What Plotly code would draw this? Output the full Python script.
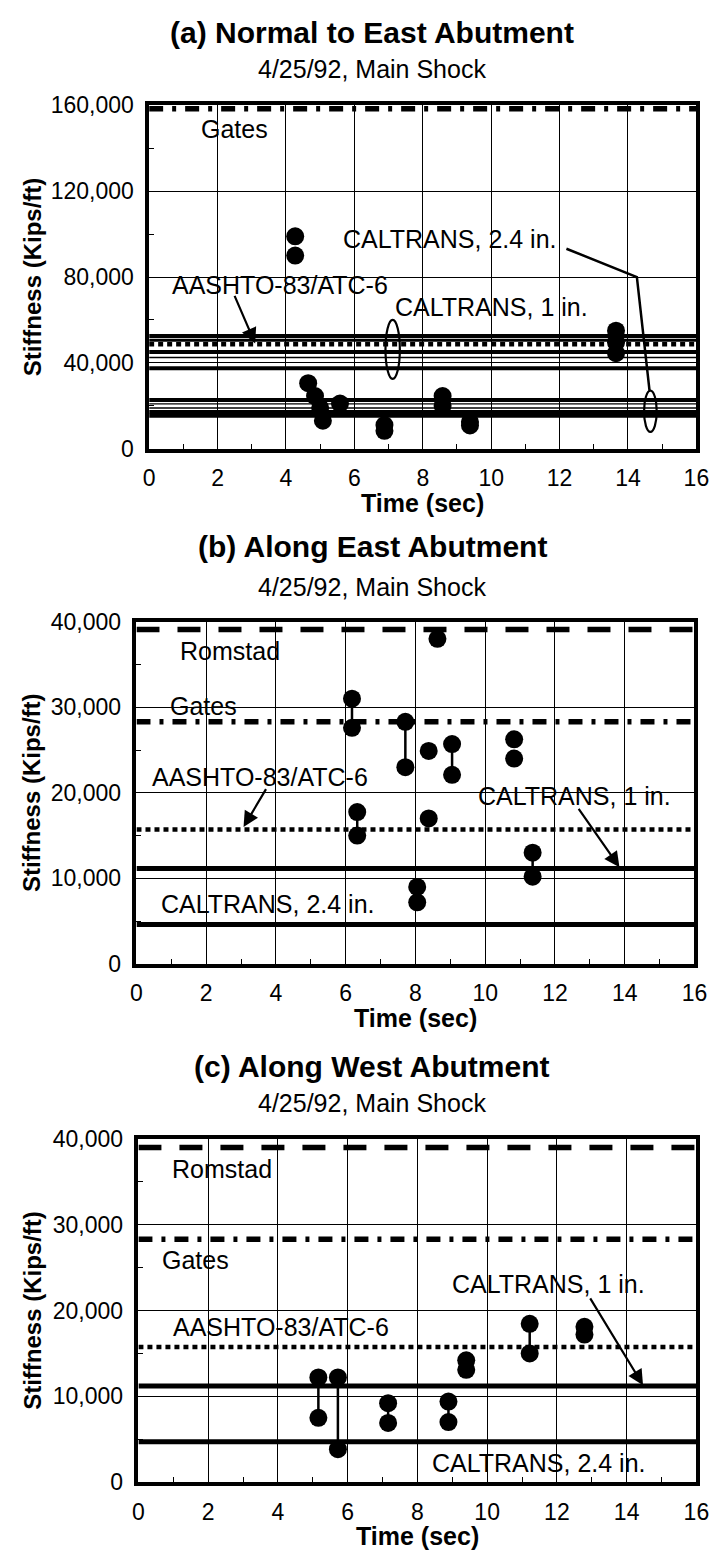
import plotly.graph_objects as go

W, H = 724, 1564

# ---------------- data ----------------
time_range = [0, 16]

# (a) Normal to East Abutment
a_time = [4.27, 4.27, 4.65, 4.85, 5.0, 5.08, 5.58, 6.88, 6.88, 8.58, 8.58, 9.38, 9.38, 13.65, 13.65, 13.65]
a_stiff = [99000, 90000, 30500, 24500, 19000, 13000, 21000, 11000, 8300, 24500, 20000, 12500, 10800, 55000, 49500, 44500]
a_gates = 158500
a_aashto = 48700
a_caltrans_1in = [52500, 50500, 45000, 42500, 37500]
a_caltrans_24in = [22700, 20900, 18900, 17100, 15300]

# (b) Along East Abutment
b_time = [6.18, 6.18, 6.33, 6.33, 7.71, 7.71, 8.05, 8.05, 8.38, 8.38, 8.63, 9.05, 9.05, 10.83, 10.83, 11.36, 11.36]
b_stiff = [31000, 27600, 17750, 15000, 28300, 23000, 9000, 7200, 24900, 17000, 38000, 25700, 22100, 26250, 24000, 13000, 10200]
b_link_time = [6.18, 6.33, 7.71, 8.05, 9.05, 11.36]
b_link_low = [27600, 15000, 23000, 7200, 22100, 10200]
b_link_high = [31000, 17750, 28300, 9000, 25700, 13000]
b_romstad, b_gates, b_aashto, b_cal1, b_cal24 = 39100, 28300, 15700, 11150, 4600

# (c) Along West Abutment
c_time = [5.16, 5.16, 5.72, 5.72, 7.16, 7.16, 8.89, 8.89, 9.4, 9.4, 11.22, 11.22, 12.79, 12.79]
c_stiff = [12200, 7500, 12200, 3850, 9200, 6900, 9400, 7000, 14200, 13100, 18450, 15000, 18100, 17200]
c_link_time = [5.16, 5.72, 7.16, 8.89, 11.22]
c_link_low = [7500, 3850, 6900, 7000, 15000]
c_link_high = [12200, 12200, 9200, 9400, 18450]
c_romstad, c_gates, c_aashto, c_cal1, c_cal24 = 39000, 28300, 15750, 11200, 4700

# ---------------- styles ----------------
FONT = "Liberation Sans, Arial, Helvetica, sans-serif"
ROMSTAD_DASH = "23px,18px"
GATES_DASH = "14px,9px,4px,9px"
AASHTO_DASH = "5px,4px"
a_cal1_widths = [4, 3, 4, 1.5, 4]
a_cal24_widths = [4, 1.2, 1.5, 4, 4]


def px2py(py):
    return 1 - py / H


def px2x(px):
    return px / W


fig = go.Figure()


def hline(n, value, width, dash="solid"):
    fig.add_trace(go.Scatter(x=time_range, y=[value, value], mode="lines",
                             line=dict(color="black", width=width, dash=dash),
                             xaxis=f"x{n}", yaxis=f"y{n}", hoverinfo="skip",
                             showlegend=False))


def links(n, t, lo, hi):
    xs, ys = [], []
    for ti, l, h in zip(t, lo, hi):
        xs += [ti, ti, None]
        ys += [l, h, None]
    fig.add_trace(go.Scatter(x=xs, y=ys, mode="lines",
                             line=dict(color="black", width=2.5),
                             xaxis=f"x{n}", yaxis=f"y{n}", showlegend=False))


def points(n, t, s):
    fig.add_trace(go.Scatter(x=t, y=s, mode="markers",
                             marker=dict(color="black", size=18, line=dict(width=0)),
                             xaxis=f"x{n}", yaxis=f"y{n}", showlegend=False))


# panel a
hline(1, a_gates, 5.5, GATES_DASH)
for v, w in zip(a_caltrans_1in, a_cal1_widths):
    hline(1, v, w)
hline(1, a_aashto, 4.5, AASHTO_DASH)
for v, w in zip(a_caltrans_24in, a_cal24_widths):
    hline(1, v, w)
points(1, a_time, a_stiff)

# panel b
hline(2, b_romstad, 5.5, ROMSTAD_DASH)
hline(2, b_gates, 5.5, GATES_DASH)
hline(2, b_aashto, 4.5, AASHTO_DASH)
hline(2, b_cal1, 5)
hline(2, b_cal24, 5)
links(2, b_link_time, b_link_low, b_link_high)
points(2, b_time, b_stiff)

# panel c
hline(3, c_romstad, 5.5, ROMSTAD_DASH)
hline(3, c_gates, 5.5, GATES_DASH)
hline(3, c_aashto, 4.5, AASHTO_DASH)
hline(3, c_cal1, 5)
hline(3, c_cal24, 5)
links(3, c_link_time, c_link_low, c_link_high)
points(3, c_time, c_stiff)

# ---------------- axes ----------------
panels = {
    1: dict(x=(147, 709), y=(94, 443), ymax=160000, dtick=40000, minor=20000),
    2: dict(x=(134, 707), y=(619, 967), ymax=40000, dtick=10000, minor=5000),
    3: dict(x=(136, 709), y=(1145, 1494), ymax=40000, dtick=10000, minor=5000),
}

layout = dict(width=W, height=H, autosize=False,
              margin=dict(l=0, r=0, t=0, b=0),
              paper_bgcolor="white", plot_bgcolor="white",
              showlegend=False, font=dict(family=FONT, color="black"))

for n, p in panels.items():
    sfx = "" if n == 1 else str(n)
    layout[f"xaxis{sfx}"] = dict(
        domain=[px2x(p["x"][0]), px2x(p["x"][1])], anchor=f"y{sfx}",
        range=time_range, tick0=0, dtick=2, showgrid=True, gridcolor="black",
        gridwidth=1.2, showline=True, linecolor="black", linewidth=3.5, mirror=True,
        ticks="", zeroline=False, ticklabelstandoff=6,
        tickfont=dict(size=23, family=FONT),
        minor=dict(dtick=1, tick0=0, ticks="inside", ticklen=5,
                   tickcolor="black", tickwidth=1, showgrid=False))
    layout[f"yaxis{sfx}"] = dict(
        domain=[px2py(p["y"][1]), px2py(p["y"][0])], anchor=f"x{sfx}",
        range=[0, p["ymax"]], tick0=0, dtick=p["dtick"], showgrid=True,
        gridcolor="black", gridwidth=1.2, showline=True, linecolor="black",
        linewidth=3.5, mirror=True, ticks="", zeroline=False, tickformat=",d",
        ticklabelstandoff=7, tickfont=dict(size=23, family=FONT),
        minor=dict(dtick=p["minor"], tick0=0, ticks="inside", ticklen=5,
                   tickcolor="black", tickwidth=1, showgrid=False))

fig.update_layout(**layout)

# ---------------- titles ----------------
anns = []
titles = [("(a) Normal to East Abutment", 20, 57),
          ("(b) Along East Abutment", 543, 584),
          ("(c) Along West Abutment", 1071, 1108)]
for t, ty, sy in titles:
    anns.append(dict(text=f"<b>{t}</b>", x=px2x(376), y=px2py(ty), xref="paper", yref="paper",
                     showarrow=False, font=dict(size=30, family=FONT), xanchor="center", yanchor="middle"))
    anns.append(dict(text="4/25/92, Main Shock", x=px2x(376), y=px2py(sy), xref="paper", yref="paper",
                     showarrow=False, font=dict(size=25, family=FONT), xanchor="center", yanchor="middle"))

for n, p in panels.items():
    xc = (p["x"][0] + p["x"][1]) / 2
    anns.append(dict(text="<b>Time (sec)</b>", x=px2x(xc), y=px2py(p["y"][1] + 55),
                     xref="paper", yref="paper", showarrow=False,
                     font=dict(size=25, family=FONT), xanchor="center", yanchor="middle"))
    yc = (p["y"][0] + p["y"][1]) / 2
    anns.append(dict(text="<b>Stiffness (Kips/ft)</b>", x=px2x(27), y=px2py(yc),
                     xref="paper", yref="paper", showarrow=False, textangle=-90,
                     font=dict(size=24, family=FONT), xanchor="center", yanchor="middle"))

# ---------------- in-plot labels ----------------
labels = [
    (1, "Gates", 2.5, 149000, "center"),
    (1, "CALTRANS, 2.4 in.", 8.8, 97900, "center"),
    (1, "AASHTO-83/ATC-6", 3.84, 76200, "center"),
    (1, "CALTRANS, 1 in.", 10.0, 66000, "center"),
    (2, "Romstad", 2.67, 36600, "center"),
    (2, "Gates", 1.93, 30200, "center"),
    (2, "AASHTO-83/ATC-6", 3.55, 21900, "center"),
    (2, "CALTRANS, 1 in.", 12.57, 19600, "center"),
    (2, "CALTRANS, 2.4 in.", 0.65, 7000, "left"),
    (3, "Romstad", 2.4, 36500, "center"),
    (3, "Gates", 1.65, 25900, "center"),
    (3, "CALTRANS, 1 in.", 11.76, 23100, "center"),
    (3, "AASHTO-83/ATC-6", 4.08, 18100, "center"),
    (3, "CALTRANS, 2.4 in.", 11.48, 2200, "center"),
]
for n, t, x, y, xa in labels:
    anns.append(dict(text=t, x=x, y=y, xref=f"x{n}", yref=f"y{n}", showarrow=False,
                     font=dict(size=25, family=FONT), xanchor=xa, yanchor="middle"))

arrows = [
    (1, 3.1, 49000, 2.48, 71900),
    (2, 3.07, 16000, 3.74, 20600),
    (2, 13.85, 11300, 12.65, 18300),
    (3, 14.47, 11300, 12.93, 21600),
]
for n, x, y, ax, ay in arrows:
    anns.append(dict(text="", x=x, y=y, ax=ax, ay=ay, xref=f"x{n}", yref=f"y{n}",
                     axref=f"x{n}", ayref=f"y{n}", showarrow=True, arrowhead=2,
                     arrowsize=1.4, arrowwidth=2.2, arrowcolor="black", standoff=0))

fig.update_layout(annotations=anns)

# ---------------- shapes (ellipses, leader) ----------------
shapes = [
    dict(type="circle", xref="x", yref="y", x0=6.91, x1=7.33, y0=32500, y1=60000,
         line=dict(color="black", width=2.2)),
    dict(type="circle", xref="x", yref="y", x0=14.47, x1=14.84, y0=7800, y1=27000,
         line=dict(color="black", width=2.2)),
    dict(type="path", xref="x", yref="y", path="M 12.2,93200 L 14.26,80000 L 14.63,27000",
         line=dict(color="black", width=2.5)),
]
fig.update_layout(shapes=shapes)

fig.write_html("out.html")
